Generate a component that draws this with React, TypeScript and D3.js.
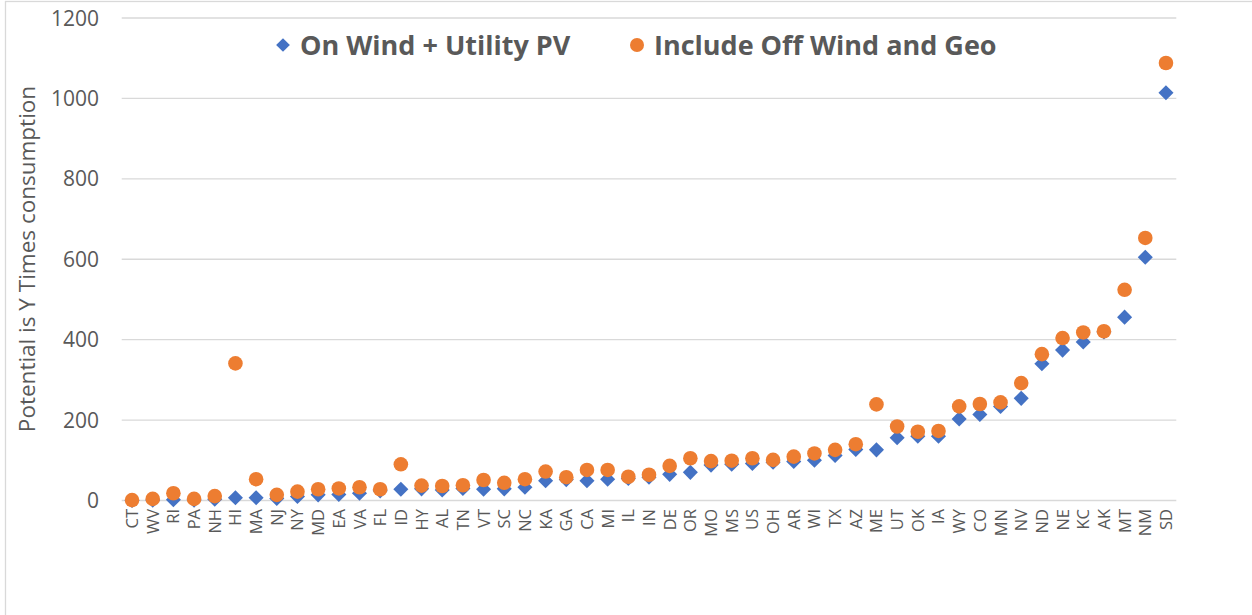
import React from "react";
import * as d3 from "d3";

const states = ["CT","WV","RI","PA","NH","HI","MA","NJ","NY","MD","EA","VA","FL","ID","HY","AL","TN","VT","SC","NC","KA","GA","CA","MI","IL","IN","DE","OR","MO","MS","US","OH","AR","WI","TX","AZ","ME","UT","OK","IA","WY","CO","MN","NV","ND","NE","KC","AK","MT","NM","SD"];
const onWindPV = [0,1,2,1,3,7,7,5,10,14,15,18,24,28,29,26,30,28,29,33,49,52,49,53,55,58,65,70,88,90,92,95,97,100,112,127,126,156,160,160,203,214,234,254,340,374,394,419,456,605,1014];
const includeOffGeo = [1,4,18,4,11,341,53,14,22,28,30,33,28,90,37,36,38,51,44,53,72,58,76,76,59,64,86,105,98,99,105,101,109,117,126,140,239,184,171,173,234,240,244,292,364,404,418,421,524,653,1088];
const yTicks = [0,200,400,600,800,1000,1200];
const seriesNames = ["On Wind + Utility PV", "Include Off Wind and Geo"];

const W = 1252, H = 615;
const BLUE = "#4472C4", ORANGE = "#ED7D31", GRID = "#D9D9D9", TXT = "#595959";
const FONT = "'Open Sans', 'Noto Sans', sans-serif";

export default function App() {
  const x = d3.scalePoint<string>().domain(states).range([121.7, 1176.3]).padding(0.5);
  const y = d3.scaleLinear().domain([0, 1200]).range([500.5, 18]);
  const diamond = d3.symbol().type(d3.symbolDiamond2).size(145)();
  const x0 = 121.7, x1 = 1176.3;
  return (
    <svg width={W} height={H} style={{ position: "absolute", left: 0, top: 0 }} fontFamily={FONT}>
      <rect x={0} y={0} width={W} height={H} fill="#fff" />
      <rect x={5.5} y={1.5} width={W + 10} height={H + 10} fill="none" stroke={GRID} strokeWidth={1.3} />
      {yTicks.map((t) => (
        <g key={t}>
          <line x1={x0} x2={x1} y1={y(t)} y2={y(t)} stroke={GRID} strokeWidth={1.3} />
          <text x={99} y={y(t)} dy="0.36em" textAnchor="end" fontSize={21} fill={TXT}>{t}</text>
        </g>
      ))}
      <text transform={`translate(35,259) rotate(-90)`} textAnchor="middle" fontSize={22.5} fill={TXT}>Potential is Y Times consumption</text>
      {states.map((s) => (
        <text key={s} transform={`translate(${x(s)! + 6},${509}) rotate(-90)`} textAnchor="end" fontSize={16.5} fill={TXT}>{s}</text>
      ))}
      {states.map((s, i) => (
        <path key={"b" + s} d={diamond!} transform={`translate(${x(s)},${y(onWindPV[i])})`} fill={BLUE} />
      ))}
      {states.map((s, i) => (
        <circle key={"o" + s} cx={x(s)} cy={y(includeOffGeo[i])} r={7.3} fill={ORANGE} />
      ))}
      <g>
        <path d={d3.symbol().type(d3.symbolDiamond2).size(120)()!} transform="translate(283,45)" fill={BLUE} />
        <text x={300} y={45} dy="0.36em" fontSize={27} fontWeight="bold" fill={TXT}>{seriesNames[0]}</text>
        <circle cx={637} cy={45} r={7} fill={ORANGE} />
        <text x={654} y={45} dy="0.36em" fontSize={27} fontWeight="bold" fill={TXT}>{seriesNames[1]}</text>
      </g>
    </svg>
  );
}
